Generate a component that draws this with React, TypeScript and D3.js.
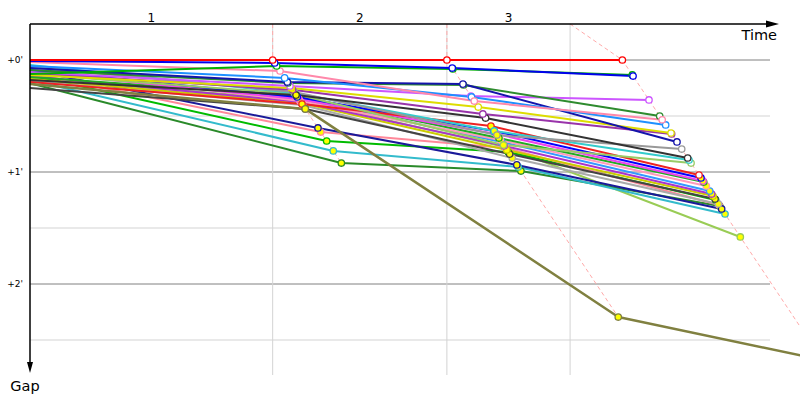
import React from "react";
import * as d3 from "d3";

// Checkpoint labels and times (seconds from start)
const segmentLabels = ["1", "2", "3"];
const gridTimes = [195, 335, 434];
const leaderTimes = [195, 335, 476];
const gapTicks = [0, 30, 60, 90, 120, 150];
const majorTickLabels = ["+0'", "+1'", "+2'"];

const riderColors = [
  "#ff0000", "#0000ee", "#00b000", "#ff88aa", "#1e90ff", "#1414aa", "#2e8b2e", "#cc55ff",
  "#dddd00", "#9933aa", "#333333", "#999999", "#33cccc", "#99cc66", "#808040", "#ee2222",
  "#0000ff", "#ee44ee", "#22aa22", "#ff99bb", "#3399ff", "#aa33cc", "#cccc00", "#444444",
  "#aaaaaa", "#1a1a99", "#ff8899", "#00bb00", "#33bbcc", "#2a8a2a", "#99cc55",
];
// gaps in seconds
const startGap = [0, 0.5, 7.5, 1.1, 3.2, 4.3, 5.4, 6.4, 8, 7, 10.7, 3.8, 2.7, 7.5, 12.9, 11.8,
  5.4, 6.4, 9.1, 4.8, 5.9, 8.6, 10.2, 15, 11.2, 5.4, 7, 8, 10.7, 12.5, 9.6];
const cp1Gap = [0, 1.6, 3.2, 5.9, 9.6, 11.8, 12.3, 13.9, 15, 16, 18.8, 17.1, 17.7, 18.2, 26.2, 23.6,
  19.8, 20.9, 19.3, 22, 20.4, 22.5, 23, 26.2, 24.1, 36.4, 38.6, 43.4, 48.7, 55.2, 21.4];
const cp2Gap = [0, 4.3, 4.8, 22, 19.8, 12.9, 13.4, 19.3, 25.2, 28.9, 31.1, 40.2, 38, 45.5, 137.7, 35.4,
  38, 39.6, 41.8, 42.9, 43.9, 46, 48.2, 50.4, 52.5, 56.2, 47.1, 49.3, 57.3, 59.5, 46.6];
const cp3Gap = [0, 8.6, 8, 32, 34.8, 43.9, 30, 21.4, 39.1, 39.6, 52.5, 47.7, 53.6, 55.2, 160.7, 61.6,
  63.2, 64.8, 65.4, 67.5, 70.2, 71.8, 72.9, 74.5, 77.1, 79.8, 77.7, 75, 82.5, 78.2, 94.8];
const whiteCount = [8, 11, 15];

const W = 800, H = 400;
const TOP = 24, LEFT = 30;

export default function App() {
  const x = d3.scaleLinear().domain([0, 60]).range([LEFT, LEFT + 224 / 3]);
  const y = d3.scaleLinear().domain([0, 60]).range([60, 172]);
  const cps = [cp1Gap, cp2Gap, cp3Gap];

  const riders = riderColors.map((c, i) => {
    const pts: [number, number][] = [[x(0), y(startGap[i])]];
    cps.forEach((g, k) => pts.push([x(leaderTimes[k] + g[i]), y(g[i])]));
    return { c, pts, i };
  });

  const line = d3.line<[number, number]>();

  const dashed = cps.map((g, k) => {
    const sorted = g.slice().sort((a, b) => a - b);
    const pts: [number, number][] = [[x(gridTimes[k]), TOP]];
    sorted.forEach((v) => pts.push([x(leaderTimes[k] + v), y(v)]));
    return pts;
  });

  const markers: any[] = [];
  cps.forEach((g, k) => {
    const order = g.map((v, i) => i).sort((a, b) => g[a] - g[b]);
    const rank: number[] = [];
    order.forEach((ri, r) => (rank[ri] = r));
    g.forEach((v, i) => {
      markers.push({ k, i, cx: x(leaderTimes[k] + v), cy: y(v), white: rank[i] < whiteCount[k], c: riderColors[i] });
    });
  });

  const font = "'DejaVu Sans', Verdana, sans-serif";

  return (
    <svg width={W} height={H} style={{ position: "absolute", left: 0, top: 0, background: "#fff" }}>
      <rect x={0} y={0} width={W} height={H} fill="#fff" />
      {gapTicks.map((t, i) => (
        <line key={"h" + i} x1={LEFT} x2={770} y1={y(t)} y2={y(t)}
          stroke={t % 60 === 0 ? "#808080" : "#d3d3d3"} strokeWidth={1} />
      ))}
      {gridTimes.map((t, i) => (
        <line key={"v" + i} x1={x(t)} x2={x(t)} y1={TOP} y2={375} stroke="#d3d3d3" strokeWidth={1} />
      ))}
      {segmentLabels.map((s, i) => {
        const a = i === 0 ? 0 : gridTimes[i - 1];
        const b = gridTimes[i];
        return (
          <text key={"s" + i} x={(x(a) + x(b)) / 2} y={18} textAnchor="middle" dominantBaseline="middle"
            fontSize={12} fontFamily={font} fill="#000">{s}</text>
        );
      })}
      {majorTickLabels.map((s, i) => (
        <text key={"t" + i} x={23} y={y(i * 60)} textAnchor="end" dominantBaseline="middle"
          fontSize={9} fontFamily={font} fill="#000">{s}</text>
      ))}
      {dashed.map((pts, k) => (
        <path key={"d" + k} d={line(pts) || ""} fill="none" stroke="#ffaaaa" strokeWidth={1} strokeDasharray="4,3" />
      ))}
      {riders.slice().reverse().map((r) => (
        <path key={"r" + r.i} d={line(r.pts) || ""} fill="none" stroke={r.c}
          strokeWidth={r.c === "#808040" ? 2.5 : 2} strokeLinejoin="round" />
      ))}
      {markers.slice().reverse().map((m, j) => (
        <circle key={"m" + j} cx={m.cx} cy={m.cy} r={3.2} fill={m.white ? "#ffffff" : "#ffff00"}
          stroke={m.c} strokeWidth={1.3} />
      ))}
      <line x1={LEFT} x2={768} y1={TOP} y2={TOP} stroke="#000" strokeWidth={1.5} />
      <polygon points={`779,${TOP} 766,${TOP - 3.5} 766,${TOP + 3.5}`} fill="#000" />
      <line x1={LEFT} x2={LEFT} y1={TOP} y2={364} stroke="#000" strokeWidth={1.5} />
      <polygon points={`${LEFT},373 ${LEFT - 3},362 ${LEFT + 3},362`} fill="#000" />
      <text x={777} y={40} textAnchor="end" fontSize={14.5} fontFamily={font} fill="#000">Time</text>
      <text x={25} y={391} textAnchor="middle" fontSize={14.5} fontFamily={font} fill="#000">Gap</text>
    </svg>
  );
}
